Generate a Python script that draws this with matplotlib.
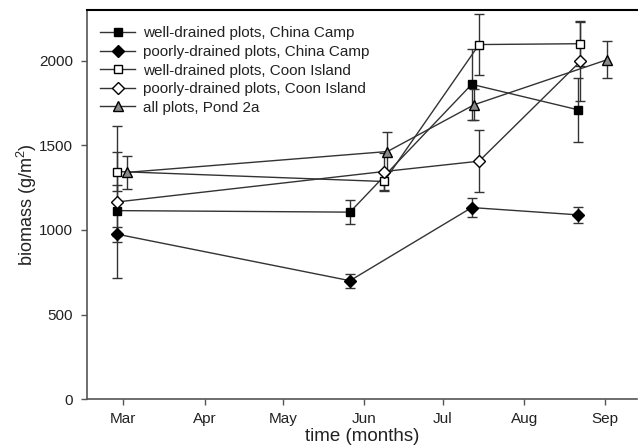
import matplotlib
matplotlib.use("Agg")
import matplotlib.pyplot as plt

plt.rcParams.update({
    "font.family": ["Liberation Sans", "DejaVu Sans"],
    "font.size": 11,
    "text.color": "#222222",
    "axes.labelcolor": "#222222",
    "xtick.color": "#555555",
    "ytick.color": "#555555",
    "xtick.labelcolor": "#222222",
    "ytick.labelcolor": "#222222",
    "mathtext.fontset": "custom",
    "mathtext.rm": "Liberation Sans",
})

# sampling dates as day of year
cc_days = [57.5, 146.5, 193, 233.5]
ci_days = [57.5, 159.5, 195.8, 234.5]
pond_days = [61.5, 160.8, 194, 244.8]

# China Camp
cc_well = [1114, 1105, 1860, 1710]
cc_well_err = [150, 70, 210, 190]
cc_poor = [975, 700, 1132, 1089]
cc_poor_err = [44, 42, 55, 47]

# Coon Island
ci_well = [1345, 1286, 2095, 2100]
ci_well_err = [115, 55, 180, 130]
ci_poor = [1165, 1345, 1406, 1996]
ci_poor_err = [450, 110, 183, 237]

# Pond 2a
pond_all = [1340, 1463, 1740, 2006]
pond_all_err = [97, 117, 90, 110]

month_days = [60, 91, 121, 152, 182, 213, 244]
month_labels = ["Mar", "Apr", "May", "Jun", "Jul", "Aug", "Sep"]

fig = plt.figure(figsize=(6.38, 4.48), dpi=100)
ax = fig.add_axes([0.136, 0.109, 0.862, 0.869])

line_col = "#333333"
series = [
    (cc_days, cc_well, cc_well_err, "s", "black", 5.5, "well-drained plots, China Camp"),
    (cc_days, cc_poor, cc_poor_err, "D", "black", 6.0, "poorly-drained plots, China Camp"),
    (ci_days, ci_well, ci_well_err, "s", "white", 5.5, "well-drained plots, Coon Island"),
    (ci_days, ci_poor, ci_poor_err, "D", "white", 6.0, "poorly-drained plots, Coon Island"),
    (pond_days, pond_all, pond_all_err, "^", "#8a8a8a", 6.5, "all plots, Pond 2a"),
]

handles, labels = [], []
for x, y, e, m, fc, ms, lab in series:
    cont = ax.errorbar(x, y, yerr=e, fmt="-", marker=m, color=line_col, mfc=fc,
                       mec="black", ms=ms, lw=1.0, elinewidth=1.0, capsize=3.6,
                       capthick=1.0)
    handles.append(cont[0])
    labels.append(lab)

ax.set_xlim(46, 256)
ax.set_ylim(0, 2300)
ax.set_xticks(month_days)
ax.set_xticklabels(month_labels)
ax.set_yticks([0, 500, 1000, 1500, 2000])

ax.set_xlabel("time (months)", fontsize=13.5, labelpad=2)
ax.set_ylabel("biomass (g/m$^2$)", fontsize=13, labelpad=0)

for s in ["left", "bottom"]:
    ax.spines[s].set_color("#555555")
    ax.spines[s].set_linewidth(1.2)
ax.spines["top"].set_color("black")
ax.spines["top"].set_linewidth(1.5)
ax.spines["right"].set_visible(False)
ax.tick_params(direction="out", length=4, width=1.0)
ax.tick_params(axis="x", pad=5)
ax.tick_params(axis="y", pad=6)

ax.legend(handles, labels, loc="upper left",
          bbox_to_anchor=(0.005, 0.985), frameon=False,
          handlelength=2.3, handletextpad=0.5, labelspacing=0.3,
          borderaxespad=0.3, fontsize=11)

fig.savefig("out.png", dpi=100)
